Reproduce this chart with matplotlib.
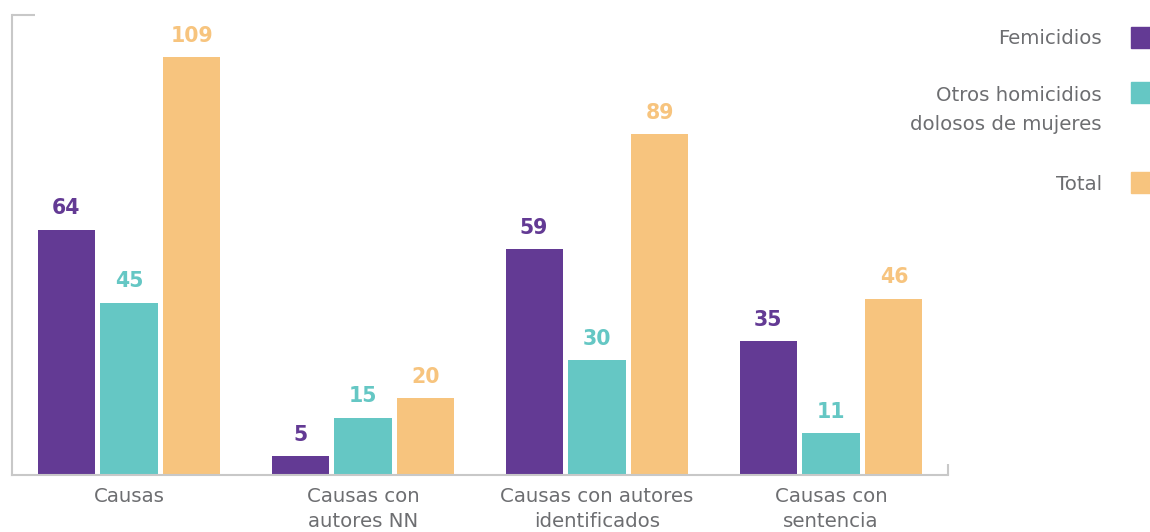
import numpy as np
import matplotlib.pyplot as plt

categories = ["Causas", "Causas con\nautores NN", "Causas con autores\nidentificados", "Causas con\nsentencia"]
series_names = ["Femicidios", "Otros homicidios\ndolosos de mujeres", "Total"]
femicidios = [64, 5, 59, 35]
otros = [45, 15, 30, 11]
total = [109, 20, 89, 46]

colors = ["#633a94", "#65c7c4", "#f7c47e"]
text_gray = "#6d6e71"
spine_gray = "#c8c8c8"

plt.rcParams['font.family'] = ['DejaVu Sans']

fig = plt.figure(figsize=(11.5, 5.32), dpi=100)
ax = fig.add_axes([12 / 1150, 57 / 532, 936 / 1150, 460 / 532])

x = np.arange(len(categories))
width = 0.244
step = 0.269
for i, (vals, col) in enumerate(zip([femicidios, otros, total], colors)):
    pos = x + (i - 1) * step
    ax.bar(pos, vals, width=width, color=col, zorder=2)
    for px, v in zip(pos, vals):
        ax.annotate(str(v), (px, v), xytext=(0, 11), textcoords="offset points",
                    ha="center", va="baseline", fontsize=14.8, fontweight="bold", color=col)

ax.set_xlim(-0.5, 3.5)
ax.set_ylim(0, 120)
ax.set_yticks([])
ax.set_xticks(x)
ax.set_xticklabels(categories, fontsize=14.2, color=text_gray, linespacing=1.35)
ax.tick_params(axis="x", length=0, pad=9)
for s in ["top", "right"]:
    ax.spines[s].set_visible(False)
for s in ["left", "bottom"]:
    ax.spines[s].set_color(spine_gray)
    ax.spines[s].set_linewidth(1.5)

# small end ticks on the frame
ax.plot([-0.5, -0.5 + 23 / 234], [120, 120], color=spine_gray, lw=1.5,
        clip_on=False, solid_capstyle="butt")
ax.plot([3.5, 3.5], [0, 11 / 3.835], color=spine_gray, lw=1.5,
        clip_on=False, solid_capstyle="butt")

# legend drawn manually on the right (baselines of each text line, square tops in px)
legend_baselines = [[44], [101, 130], [190]]
legend_square_top = [27, 82, 172]
for name, col, bls, sq in zip(series_names, colors, legend_baselines, legend_square_top):
    for line, bl in zip(name.split("\n"), bls):
        fig.text(1102 / 1150, 1 - bl / 532, line, ha="right", va="baseline",
                 fontsize=14.2, color=text_gray)
    fig.patches.append(plt.Rectangle((1131 / 1150, 1 - (sq + 21) / 532), 22 / 1150, 21 / 532,
                                     transform=fig.transFigure, color=col, figure=fig))

fig.savefig("out.png", dpi=100)
